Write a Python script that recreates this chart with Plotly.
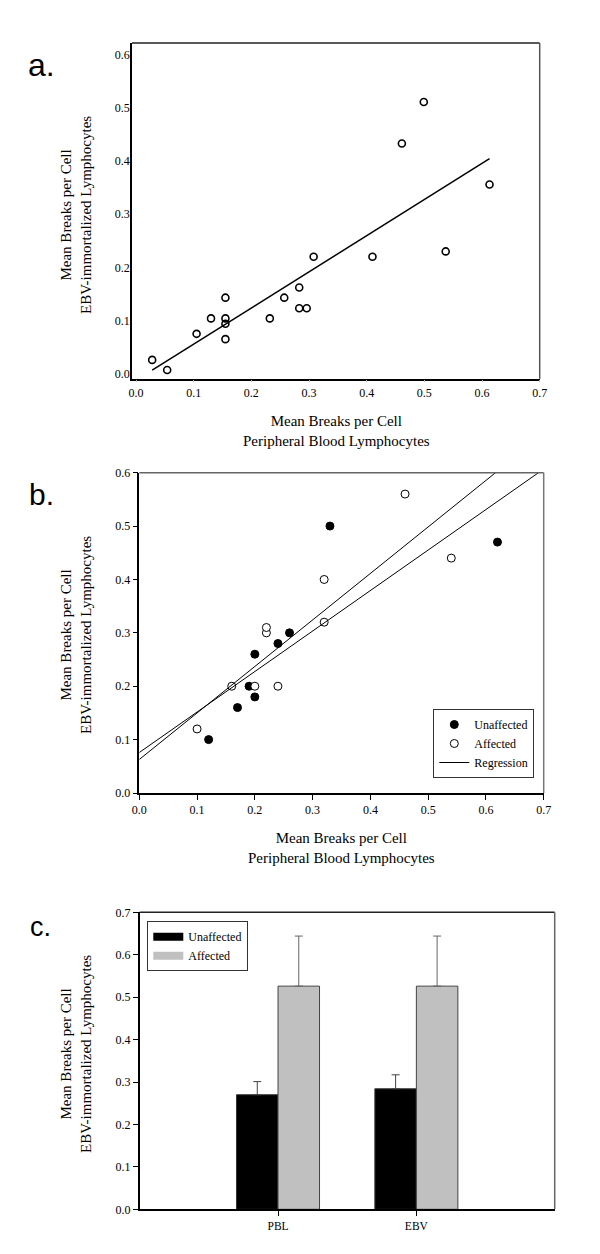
import numpy as np
import plotly.graph_objects as go

# ---------------- data ----------------
# Panel a: PBL vs EBV mean breaks per cell
a_pbl = [0.028, 0.054, 0.105, 0.130, 0.155, 0.155, 0.155, 0.155, 0.232, 0.257,
         0.283, 0.283, 0.296, 0.308, 0.410, 0.461, 0.499, 0.537, 0.613]
a_ebv = [0.026, 0.007, 0.075, 0.104, 0.143, 0.104, 0.094, 0.065, 0.104, 0.143,
         0.162, 0.123, 0.123, 0.220, 0.220, 0.433, 0.511, 0.230, 0.356]

# Panel b: unaffected / affected
b_unaff_pbl = [0.12, 0.17, 0.19, 0.20, 0.20, 0.24, 0.26, 0.33, 0.62]
b_unaff_ebv = [0.10, 0.16, 0.20, 0.18, 0.26, 0.28, 0.30, 0.50, 0.47]
b_aff_pbl = [0.10, 0.16, 0.20, 0.22, 0.22, 0.24, 0.32, 0.32, 0.46, 0.54]
b_aff_ebv = [0.12, 0.20, 0.20, 0.30, 0.31, 0.20, 0.32, 0.40, 0.56, 0.44]

# Panel c: bar means with upper error
c_categories = ["PBL", "EBV"]
c_unaff = [0.270, 0.284]
c_unaff_err = [0.031, 0.033]
c_aff = [0.526, 0.526]
c_aff_err = [0.118, 0.118]

# ---------------- helpers ----------------
W, H = 600, 1254
SERIF = "Liberation Serif, Times New Roman, serif"
SANS = "Liberation Sans, Arial, sans-serif"


def px_x(p):
    return p / W


def px_y(p):
    return 1 - p / H


fig = go.Figure()

# ---------------- panel a ----------------
fig.add_trace(go.Scatter(
    x=a_pbl, y=a_ebv, mode="markers", xaxis="x", yaxis="y", showlegend=False,
    marker=dict(symbol="circle-open", size=7, color="black", line=dict(width=1.6, color="black")),
))
ka, ba = np.polyfit(a_pbl, a_ebv, 1)
xa_line = np.array([min(a_pbl), max(a_pbl)])
fig.add_trace(go.Scatter(
    x=xa_line, y=ka * xa_line + ba, mode="lines", xaxis="x", yaxis="y",
    showlegend=False, line=dict(color="black", width=1.5),
))

# ---------------- panel b ----------------
fig.add_trace(go.Scatter(
    x=b_unaff_pbl, y=b_unaff_ebv, mode="markers", xaxis="x2", yaxis="y2",
    name="Unaffected", legend="legend",
    marker=dict(symbol="circle", size=8, color="black", line=dict(width=1, color="black")),
))
fig.add_trace(go.Scatter(
    x=b_aff_pbl, y=b_aff_ebv, mode="markers", xaxis="x2", yaxis="y2",
    name="Affected", legend="legend",
    marker=dict(symbol="circle", size=8, color="white", line=dict(width=1, color="black")),
))
xb_line = np.array([0.0, 0.7])
ku, bu = np.polyfit(b_unaff_pbl, b_unaff_ebv, 1)
kf, bf = np.polyfit(b_aff_pbl, b_aff_ebv, 1)
fig.add_trace(go.Scatter(
    x=xb_line, y=ku * xb_line + bu, mode="lines", xaxis="x2", yaxis="y2",
    name="Regression", legend="legend", line=dict(color="black", width=1),
))
fig.add_trace(go.Scatter(
    x=xb_line, y=kf * xb_line + bf, mode="lines", xaxis="x2", yaxis="y2",
    showlegend=False, line=dict(color="black", width=1),
))

# ---------------- panel c ----------------
UNAFF_COLOR, AFF_COLOR = "black", "#c0c0c0"
fig.add_trace(go.Bar(
    x=c_categories, y=c_unaff, name="Unaffected", xaxis="x3", yaxis="y3",
    showlegend=False,
    marker=dict(color=UNAFF_COLOR, line=dict(color="#333", width=1)),
    error_y=dict(type="data", array=c_unaff_err, arrayminus=[0] * len(c_unaff_err),
                 symmetric=False, color="#444", thickness=1, width=4),
))
fig.add_trace(go.Bar(
    x=c_categories, y=c_aff, name="Affected", xaxis="x3", yaxis="y3",
    showlegend=False,
    marker=dict(color=AFF_COLOR, line=dict(color="#444", width=1)),
    error_y=dict(type="data", array=c_aff_err, arrayminus=[0] * len(c_aff_err),
                 symmetric=False, color="#666", thickness=1, width=4),
))
# legend swatches (wide rectangles as in the original)
for nm, col in [("Unaffected", UNAFF_COLOR), ("Affected", AFF_COLOR)]:
    fig.add_trace(go.Scatter(
        x=[None], y=[None], mode="lines", name=nm, xaxis="x3", yaxis="y3",
        legend="legend2", line=dict(color=col, width=8),
    ))

tickfont = dict(family=SERIF, size=12, color="black")
common_axis = dict(showgrid=False, zeroline=False, showline=True, linecolor="black",
                   linewidth=1.5, tickfont=tickfont, mirror=False, automargin=False)

layout = dict(
    width=W, height=H, margin=dict(l=0, r=0, t=0, b=0, autoexpand=False),
    paper_bgcolor="white", plot_bgcolor="white",
    font=dict(family=SERIF, color="black"),
    barmode="group", bargap=0.4, bargroupgap=0,
    xaxis=dict(domain=[px_x(124), px_x(531.7)], anchor="y", range=[-0.007, 0.7],
               tickvals=[0, 0.1, 0.2, 0.3, 0.4, 0.5, 0.6, 0.7], tickformat=".1f",
               ticks="outside", ticklen=2, tickcolor="#bbb", **common_axis),
    yaxis=dict(domain=[px_y(370.7), px_y(35)], anchor="x", range=[-0.0094, 0.622],
               tickvals=[0, 0.1, 0.2, 0.3, 0.4, 0.5, 0.6], tickformat=".1f",
               ticks="", ticklabelstandoff=-2, **common_axis),
    xaxis2=dict(domain=[px_x(131.3), px_x(535.7)], anchor="y2", range=[0, 0.7],
                tickvals=[0, 0.1, 0.2, 0.3, 0.4, 0.5, 0.6, 0.7], tickformat=".1f",
                ticks="outside", ticklen=5, tickcolor="black", **common_axis),
    yaxis2=dict(domain=[px_y(785), px_y(464.7)], anchor="x2", range=[0, 0.6],
                tickvals=[0, 0.1, 0.2, 0.3, 0.4, 0.5, 0.6], tickformat=".1f",
                ticks="outside", ticklen=5, tickcolor="black", **common_axis),
    xaxis3=dict(domain=[px_x(131.7), px_x(546.7)], anchor="y3", type="category",
                range=[-1, 2], ticks="outside", ticklen=5, tickcolor="black",
                showgrid=False, zeroline=False, showline=True, linecolor="black",
                linewidth=1.5, automargin=False,
                tickfont=dict(family=SERIF, size=11.5, color="black")),
    yaxis3=dict(domain=[px_y(1201.3), px_y(904.3)], anchor="x3", range=[0, 0.7],
                tickvals=[0, 0.1, 0.2, 0.3, 0.4, 0.5, 0.6, 0.7], tickformat=".1f",
                ticks="outside", ticklen=5, tickcolor="black", **common_axis),
    legend=dict(x=px_x(425.3), y=px_y(701), xanchor="left", yanchor="top",
                bordercolor="#333", borderwidth=1, bgcolor="white",
                font=dict(family=SERIF, size=12, color="black"),
                tracegroupgap=0, itemwidth=30),
    legend2=dict(x=px_x(139.3), y=px_y(913.3), xanchor="left", yanchor="top",
                 bordercolor="#333", borderwidth=1, bgcolor="white",
                 font=dict(family=SERIF, size=12, color="black"),
                 traceorder="normal", itemwidth=30),
)
fig.update_layout(**layout)

# frames (top and right edges)
shapes = []
for xr, yr, topc, rightc in [("x", "y", "#222", "#555"), ("x2", "y2", "#666", "#777"),
                              ("x3", "y3", "#222", "#666")]:
    shapes.append(dict(type="line", xref=f"{xr} domain", yref=f"{yr} domain",
                       x0=0, x1=1, y0=1, y1=1, line=dict(color=topc, width=1.5)))
    shapes.append(dict(type="line", xref=f"{xr} domain", yref=f"{yr} domain",
                       x0=1, x1=1, y0=0, y1=1, line=dict(color=rightc, width=1.5)))
fig.update_layout(shapes=shapes)

# annotations: panel letters, axis titles
ann = []
for label, cx, cy, size in [("a.", 33, 57, 32), ("b.", 33, 487, 30), ("c.", 32, 919, 27)]:
    ann.append(dict(text=label, x=px_x(cx), y=px_y(cy), xref="paper", yref="paper",
                    showarrow=False, xanchor="center", yanchor="middle",
                    font=dict(family=SANS, size=size, color="black")))
ytitle = "Mean Breaks per Cell<br>EBV-immortalized Lymphocytes"
xtitle = "Mean Breaks per Cell<br>Peripheral Blood Lymphocytes"
for cy in [207, 627, 1046]:
    ann.append(dict(text=ytitle, x=px_x(68), y=px_y(cy), xref="paper", yref="paper",
                    showarrow=False, textangle=-90, xanchor="center", yanchor="middle",
                    font=dict(family=SERIF, size=15, color="black")))
for cx, cy in [(328, 423), (333.5, 840)]:
    ann.append(dict(text=xtitle, x=px_x(cx), y=px_y(cy), xref="paper", yref="paper",
                    showarrow=False, xanchor="center", yanchor="middle",
                    font=dict(family=SERIF, size=15, color="black")))
fig.update_layout(annotations=ann)

fig.write_html("out.html")
